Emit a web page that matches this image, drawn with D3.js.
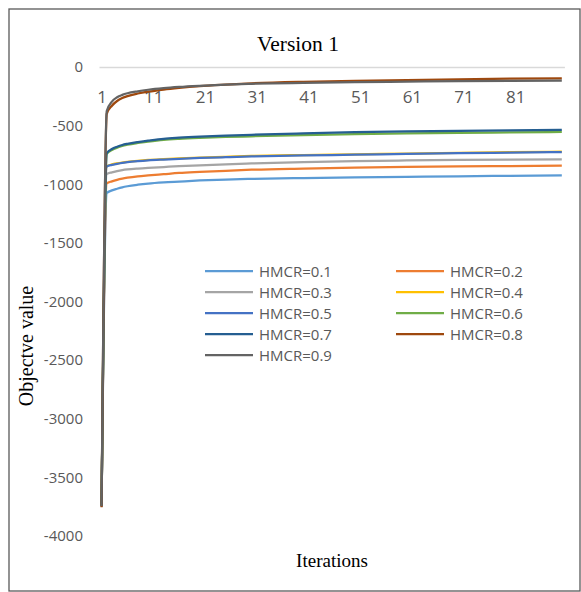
<!DOCTYPE html>
<html>
<head>
<meta charset="utf-8">
<script src="https://cdn.jsdelivr.net/npm/d3@7"></script>
<style>
  body { margin: 0; background: #fff; }
  svg { display: block; }
</style>
</head>
<body>
<div id="chart"></div>
<script>
const iterations = [1, 2, 3, 4, 5, 6, 8, 10, 13, 16, 20, 25, 30, 40, 50, 60, 70, 80, 90];

const hmcr01 = [-3720, -1075, -1052, -1038, -1026, -1017, -1004, -994, -984, -977, -968, -960, -954, -947, -942, -937, -932, -928, -924];
const hmcr02 = [-3725, -992, -975, -962, -952, -944, -932, -924, -914, -904, -895, -885, -876, -866, -858, -852, -848, -845, -842];
const hmcr03 = [-3730, -912, -898, -888, -880, -874, -866, -860, -853, -846, -838, -830, -823, -812, -803, -797, -792, -789, -787];
const hmcr04 = [-3735, -845, -831, -822, -815, -809, -800, -793, -786, -780, -773, -766, -759, -751, -745, -738, -732, -727, -722];
const hmcr05 = [-3740, -850, -835, -826, -818, -812, -803, -796, -789, -783, -776, -769, -762, -754, -748, -741, -735, -730, -725];
const hmcr06 = [-3745, -740, -708, -688, -673, -663, -648, -636, -621, -612, -604, -597, -591, -581, -573, -567, -562, -558, -554];
const hmcr07 = [-3750, -735, -700, -680, -665, -655, -640, -628, -612, -603, -594, -586, -578, -566, -556, -549, -544, -540, -537];
const hmcr08 = [-3755, -400, -330, -290, -265, -248, -226, -210, -192, -178, -163, -150, -139, -126, -118, -111, -105, -100, -96];
const hmcr09 = [-3745, -375, -295, -258, -238, -224, -207, -194, -180, -170, -160, -150, -143, -135, -129, -125, -121, -118, -116];

const seriesNames = ["HMCR=0.1", "HMCR=0.2", "HMCR=0.3", "HMCR=0.4", "HMCR=0.5",
                     "HMCR=0.6", "HMCR=0.7", "HMCR=0.8", "HMCR=0.9"];
const seriesValues = [hmcr01, hmcr02, hmcr03, hmcr04, hmcr05, hmcr06, hmcr07, hmcr08, hmcr09];
const seriesColors = ["#5B9BD5", "#ED7D31", "#A5A5A5", "#FFC000", "#4472C4",
                      "#70AD47", "#255E91", "#9E480E", "#636363"];

const xTicks = [1, 11, 21, 31, 41, 51, 61, 71, 81];
const yTicks = [0, -500, -1000, -1500, -2000, -2500, -3000, -3500, -4000];
const iterationCount = 90;

const width = 581;
const height = 592;

const svg = d3.select('#chart')
    .append('svg')
    .attr('width', width)
    .attr('height', height);

// outer frame
svg.append('rect')
    .attr('x', 9)
    .attr('y', 9)
    .attr('width', 571)
    .attr('height', 582)
    .attr('fill', 'none')
    .attr('stroke', '#595959')
    .attr('stroke-width', 1.3);

const xScale = d3.scaleLinear().domain([0.5, iterationCount + 0.5]).range([99, 564.4]);
const yScale = d3.scaleLinear().domain([-4000, 0]).range([536, 67]);

// title
svg.append('text')
    .attr('x', 298)
    .attr('y', 51)
    .attr('text-anchor', 'middle')
    .style('font-family', '"Liberation Serif", "Times New Roman", serif')
    .style('font-size', '21.5px')
    .style('fill', '#000')
    .text('Version 1');

// y axis labels (plain hyphen, like the original)
const yAxis = svg.append('g')
    .attr('transform', 'translate(83,0)')
    .call(d3.axisLeft(yScale).tickValues(yTicks).tickSize(0).tickPadding(0).tickFormat(d => String(d)));
yAxis.select('.domain').remove();
yAxis.selectAll('text')
    .style('font-family', '"Open Sans", sans-serif')
    .style('font-size', '15px')
    .style('fill', '#595959');

// horizontal axis at zero, labels below it
const xAxis = svg.append('g')
    .attr('transform', 'translate(0,' + yScale(0) + ')')
    .call(d3.axisBottom(xScale).tickValues(xTicks).tickSize(0).tickPadding(0).tickSizeOuter(0));
xAxis.select('.domain')
    .attr('stroke', '#d9d9d9')
    .attr('stroke-width', 1.3);
xAxis.selectAll('text')
    .attr('dy', null)
    .attr('y', 36)
    .style('font-family', '"Open Sans", sans-serif')
    .style('font-size', '17px')
    .style('fill', '#595959');

// axis titles
svg.append('text')
    .attr('x', 332)
    .attr('y', 567)
    .attr('text-anchor', 'middle')
    .style('font-family', '"Liberation Serif", "Times New Roman", serif')
    .style('font-size', '19px')
    .text('Iterations');

svg.append('text')
    .attr('transform', 'translate(33,346)rotate(-90)')
    .attr('text-anchor', 'middle')
    .style('font-family', '"Liberation Serif", "Times New Roman", serif')
    .style('font-size', '20px')
    .text('Objectve value');

// lines
const line = d3.line()
    .x(function(d, i) { return xScale(iterations[i]); })
    .y(function(d) { return yScale(d); })
    .curve(d3.curveMonotoneX);

svg.append('g')
    .selectAll('path')
    .data(seriesValues)
    .join('path')
    .attr('d', line)
    .attr('fill', 'none')
    .attr('stroke', (d, i) => seriesColors[i])
    .attr('stroke-width', 2.25)
    .attr('stroke-linejoin', 'round');

// legend, two columns
const legend = svg.append('g');
const legendItems = legend.selectAll('g')
    .data(seriesNames)
    .join('g')
    .attr('transform', (d, i) => 'translate(' + (i % 2 === 0 ? 205 : 396) + ',' + (271 + Math.floor(i / 2) * 21) + ')');

legendItems.append('line')
    .attr('x1', 0)
    .attr('x2', 48)
    .attr('stroke', (d, i) => seriesColors[i])
    .attr('stroke-width', 2.25);

legendItems.append('text')
    .attr('x', 54)
    .attr('y', 5.5)
    .style('font-family', '"Open Sans", sans-serif')
    .style('font-size', '15px')
    .style('fill', '#595959')
    .text(d => d);
</script>
</body>
</html>
